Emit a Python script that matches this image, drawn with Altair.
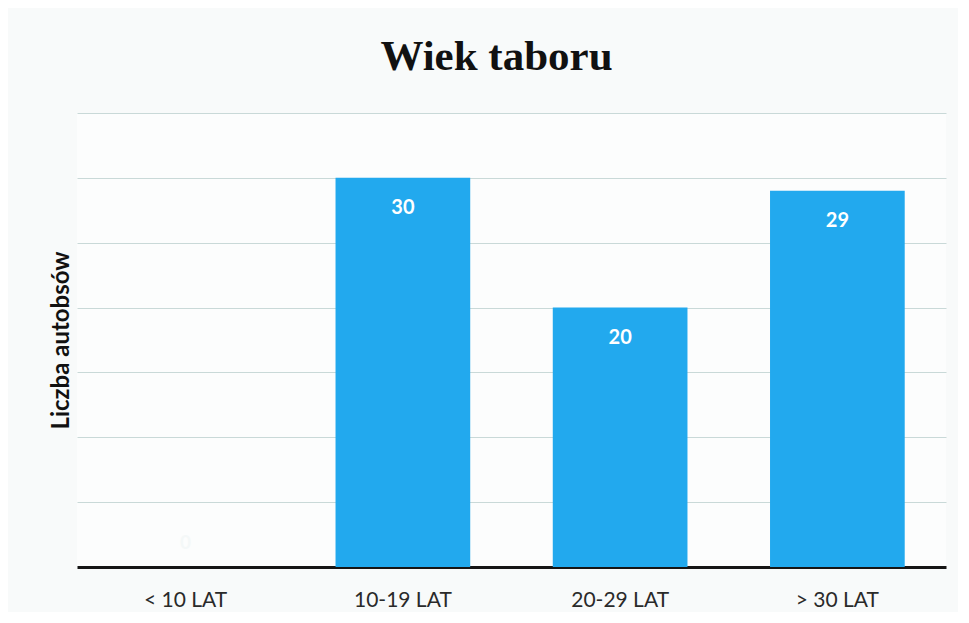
import altair as alt
import pandas as pd

categories = ["< 10 LAT", "10-19 LAT", "20-29 LAT", "> 30 LAT"]
values = [0, 30, 20, 29]
grid_values = [5, 10, 15, 20, 25, 30, 35]

df = pd.DataFrame({"kat": categories, "liczba": values})

x_enc = alt.X(
    "kat:N",
    sort=categories,
    title=None,
    scale=alt.Scale(paddingInner=0.38, paddingOuter=0.19),
    axis=alt.Axis(
        labelAngle=0,
        labelFont="Lato",
        labelFontSize=21,
        labelColor="#2a2a2a",
        labelPadding=22,
        ticks=False,
        domainColor="#151515",
        domainWidth=3,
        grid=False,
    ),
)
y_enc = alt.Y(
    "liczba:Q",
    title="Liczba autobsów",
    scale=alt.Scale(domain=[0, 35], nice=False),
    axis=alt.Axis(
        values=grid_values,
        labels=False,
        ticks=False,
        domain=False,
        grid=True,
        gridColor="#c9d9d8",
        gridWidth=1.2,
        titleFont="Lato",
        titleFontSize=24,
        titleFontWeight="bold",
        titleColor="#111111",
        titlePadding=4,
    ),
)

bars = alt.Chart(df).mark_bar(color="#22a9ee").encode(x=x_enc, y=y_enc)

labels = (
    alt.Chart(df)
    .transform_filter("datum.liczba > 0")
    .mark_text(color="white", font="Lato", fontSize=20, fontWeight="bold", baseline="middle", dy=30)
    .encode(x=alt.X("kat:N", sort=categories), y="liczba:Q", text="liczba:Q")
)

zero_labels = (
    alt.Chart(df)
    .transform_filter("datum.liczba == 0")
    .mark_text(color="#f4f8f8", font="Lato", fontSize=19, fontWeight="bold", baseline="middle", dy=-24)
    .encode(x=alt.X("kat:N", sort=categories), y="liczba:Q", text="liczba:Q")
)

chart = (
    alt.layer(bars, labels, zero_labels)
    .properties(
        width=869,
        height=454,
        autosize=alt.AutoSizeParams(type="none"),
        padding={"left": 69, "top": 105, "right": 12, "bottom": 45},
        background="#f8fafa",
        title=alt.TitleParams(
            "Wiek taboru",
            font="Liberation Serif",
            fontSize=43,
            fontWeight="bold",
            color="#111111",
            anchor="middle",
            offset=34,
            dx=-15,
        ),
    )
    .configure_view(stroke=None, fill="#fcfdfd")
)

chart.save("out.html", embed_options={"renderer": "svg", "actions": False})
